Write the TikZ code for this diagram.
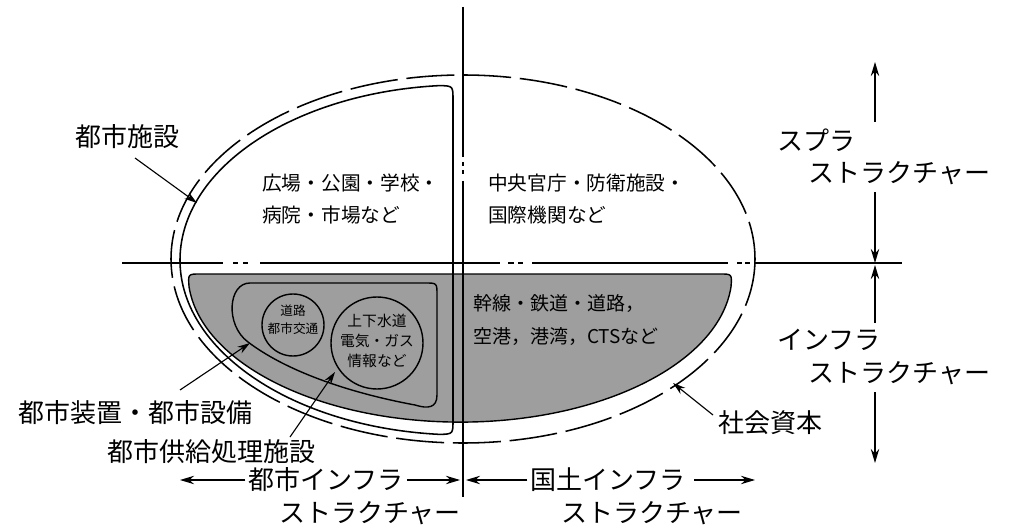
\documentclass[tikz,border=0pt]{standalone}
\usepackage{fontspec}
\setmainfont{Noto Sans CJK JP}
\usetikzlibrary{positioning}
\usetikzlibrary{arrows.meta}

\begin{document}
\begin{tikzpicture}[x=0.025cm,y=-0.025cm,
  lbl/.style={font=\fontsize{18.5}{24}\selectfont,inner sep=0pt},
  mid/.style={font=\fontsize{14}{22.8}\selectfont,inner sep=0pt,align=left},
  sml/.style={font=\fontsize{9}{12.8}\selectfont,inner sep=0pt,align=center},
  smm/.style={font=\fontsize{10.5}{14.2}\selectfont,inner sep=0pt,align=center},
  axisln/.style={line width=1.1pt},
  ptr/.style={line width=0.8pt,-{Stealth[length=9pt,width=5.5pt]}},
  dimarr/.style={line width=0.8pt,-{Stealth[length=10pt,width=6pt]}}]
 \useasboundingbox (0,0) rectangle (1022,532);
 \draw[line width=1pt,fill=black!38] (200,274) -- (720,274) .. controls (732,274) .. (731,287)
   arc[start angle=5,end angle=175,x radius=272,y radius=148] .. controls (188,274) .. cycle;
 \draw[line width=1.1pt,dash pattern=on 1.2cm off 0.22cm] (463,259) ellipse [x radius=292,y radius=184];
 \draw[line width=1.1pt] (453,100) -- (453,420) .. controls (453,434) .. (440,434.4)
   arc[start angle=94.66,end angle=265.34,x radius=283,y radius=175] .. controls (453,86) .. cycle;
 \draw[line width=1pt] (250,283) -- (425,283) .. controls (437,283) .. (437,295) -- (437,395)
   .. controls (437,408) and (428,409) .. (415,405) .. controls (345,392) and (285,370) .. (248,342)
   .. controls (225,325) and (228,283) .. (250,283);
 \draw[line width=1pt] (293,325) circle [radius=31];
 \draw[line width=1pt] (377,343) circle [radius=46];
 \foreach \a/\b in {122/223,233/238,243/248,260/500,508/514,518/523,532/728,737/742,745/750,755/902}
   \draw[axisln] (\a,263) -- (\b,263);
 \foreach \a/\b in {7/157,162/166,170/174,181/497}
   \draw[axisln] (463,\a) -- (463,\b);
 \node[sml] (doro) at (293,320) {道路\\都市交通};
 \node[smm] (suido) at (377,341) {上下水道\\電気・ガス\\情報など};
 \node[mid,anchor=west] (hiroba) at (262,199) {広場・公園・学校・\\病院・市場など};
 \node[mid,anchor=west] (chuo) at (488,199) {中央官庁・防衛施設・\\国際機関など};
 \node[mid,anchor=west,font=\fontsize{13.5}{24}\selectfont] (kansen) at (473,320) {幹線・鉄道・道路，\\空港，港湾，CTSなど};
 \node[lbl,anchor=west] (shisetsu) at (75,137) {都市施設};
 \node[lbl,anchor=west] (sochi) at (18,413) {都市装置・都市設備};
 \node[lbl,anchor=west] (kyokyu) at (107,452) {都市供給処理施設};
 \node[lbl,anchor=west] (shihon) at (718,423) {社会資本};
 \node[lbl,anchor=west] (supra) at (777,140) {スプラ};
 \node[lbl,anchor=west] (supra2) at (808,173) {ストラクチャー};
 \node[lbl,anchor=west] (infra) at (777,340) {インフラ};
 \node[lbl,anchor=west] (infra2) at (808,373) {ストラクチャー};
 \node[lbl] (toshiinfra) at (326,480) {都市インフラ};
 \node[lbl] (toshistr) at (370,513) {ストラクチャー};
 \node[lbl] (kokudo) at (608,480) {国土インフラ};
 \node[lbl] (kokustr) at (652,513) {ストラクチャー};
 \coordinate (pshisetsu) at (197,203);
 \coordinate (psochi) at (250,343);
 \coordinate (pkyokyu) at (335,372);
 \coordinate (pshihon) at (673,383);
 \draw[ptr] (135,158) -- (pshisetsu);
 \draw[ptr] (180,390) -- (psochi);
 \draw[ptr] (290,437) -- (pkyokyu);
 \draw[ptr] (713,415) -- (pshihon);
 \coordinate (ul) at (180,480);
 \coordinate (ur) at (460,480);
 \coordinate (kl) at (466,480);
 \coordinate (kr) at (755,480);
 \draw[dimarr] ([xshift=-2pt]toshiinfra.west) -- (ul);
 \draw[dimarr] ([xshift=2pt]toshiinfra.east) -- (ur);
 \draw[dimarr] ([xshift=-2pt]kokudo.west) -- (kl);
 \draw[dimarr] ([xshift=6pt]kokudo.east) -- (kr);
 \coordinate (s1) at (875,122);
 \coordinate (s2) at (875,62);
 \coordinate (s3) at (875,192);
 \coordinate (s4) at (875,263);
 \coordinate (i1) at (875,323);
 \coordinate (i2) at (875,265);
 \coordinate (i3) at (875,392);
 \coordinate (i4) at (875,463);
 \draw[dimarr] (s1) -- (s2);
 \draw[dimarr] (s3) -- (s4);
 \draw[dimarr] (i1) -- (i2);
 \draw[dimarr] (i3) -- (i4);
\end{tikzpicture}
\end{document}
